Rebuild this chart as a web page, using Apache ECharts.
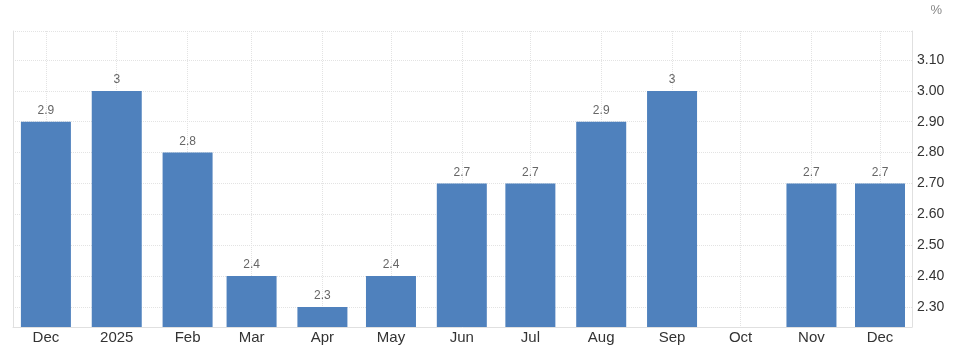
<!DOCTYPE html>
<html>
<head>
<meta charset="utf-8">
<script src="https://cdn.jsdelivr.net/npm/echarts@6/dist/echarts.min.js"></script>
<style>
html,body{margin:0;padding:0;background:#fff;}
#c{width:953px;height:355px;}
</style>
</head>
<body>
<div id="c"></div>
<script>
var dates = ['2024-12-01','2025-01-01','2025-02-01','2025-03-01','2025-04-01','2025-05-01','2025-06-01','2025-07-01','2025-08-01','2025-09-01','2025-10-01','2025-11-01','2025-12-01'];
var values = [2.9, 3, 2.8, 2.4, 2.3, 2.4, 2.7, 2.7, 2.9, 3, null, 2.7, 2.7];
var yTickLabels = ['2.30','2.40','2.50','2.60','2.70','2.80','2.90','3.00','3.10'];
var unitLabel = '%';

var chart = echarts.init(document.getElementById('c'));
function ts(s){ var p = s.split('-'); return new Date(+p[0], +p[1]-1, +p[2]).getTime(); }
var seriesData = dates.map(function(d, i){ return [ts(d), values[i]]; });
var DAY = 864e5;
// ECharts v6 widens a time axis by half a bar on each side; these bounds allow for it
var xMin = ts('2024-12-01') - 3.46 * DAY;
var xMax = ts('2025-12-01') + 3.06 * DAY;

chart.setOption({
  animation: false,
  textStyle: {fontFamily: 'Arial, "Liberation Sans", sans-serif'},
  grid: {left: 13, right: 41, top: 31, bottom: 28},
  graphic: [{
    type: 'text', right: 11, top: 4,
    style: {text: unitLabel, fill: '#888', font: '13px Arial, "Liberation Sans", sans-serif'}
  }],
  xAxis: {
    type: 'time',
    min: xMin,
    max: xMax,
    minInterval: 28 * DAY,
    maxInterval: 31 * DAY,
    splitNumber: 13,
    axisLine: {show: true, lineStyle: {color: '#e0e0e0', width: 1}},
    axisTick: {show: false},
    axisLabel: {
      color: '#333', fontSize: 15, margin: 3,
      showMinLabel: false, showMaxLabel: false,
      formatter: {year: '{yyyy}', month: '{MMM}', day: '', hour: '', minute: '', second: '', millisecond: ''}
    },
    splitLine: {show: true, lineStyle: {color: '#e3e3e3', type: 'dotted', width: 1}}
  },
  yAxis: [{
    type: 'value',
    position: 'right',
    min: 2.235,
    max: 3.194,
    splitNumber: 10,
    axisLine: {show: true, lineStyle: {color: '#e0e0e0', width: 1}},
    axisTick: {show: false},
    axisLabel: {
      color: '#333', fontSize: 14, margin: 5,
      formatter: function(v){
        var s = v.toFixed(2);
        return yTickLabels.indexOf(s) >= 0 && Math.abs(v*10 - Math.round(v*10)) < 1e-6 ? s : '';
      }
    },
    splitLine: {show: true, lineStyle: {color: '#e3e3e3', type: 'dotted', width: 1}}
  }, {
    type: 'value',
    position: 'left',
    min: 2.235,
    max: 3.194,
    axisLine: {show: true, lineStyle: {color: '#e0e0e0', width: 1}},
    axisTick: {show: false},
    axisLabel: {show: false},
    splitLine: {show: false}
  }],
  series: [{
    type: 'bar',
    data: seriesData,
    barWidth: 50,
    itemStyle: {color: '#4f81bd'},
    label: {
      show: true, position: 'top', distance: 5,
      color: '#666', fontSize: 12,
      formatter: function(p){ return p.value[1] == null ? '' : String(p.value[1]); }
    }
  }]
});
</script>
</body>
</html>
